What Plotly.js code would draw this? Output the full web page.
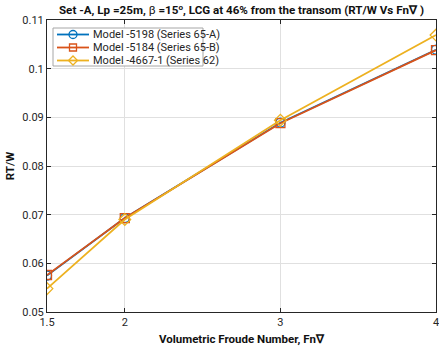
<!DOCTYPE html>
<html>
<head>
<meta charset="utf-8">
<script src="https://cdn.plot.ly/plotly-3.0.1.min.js"></script>
<style>
  html, body { margin: 0; padding: 0; background: #fff; }
  #chart { width: 439px; height: 350px; }
</style>
</head>
<body>
<div id="chart"></div>
<script>
// Volumetric Froude numbers tested
const froude = [1.5, 2, 3, 4];

// Resistance-to-weight ratio for each model
const rtwModel5198 = [0.0575, 0.0693, 0.0889, 0.1039];
const rtwModel5184 = [0.0576, 0.0693, 0.0888, 0.1038];
const rtwModel4667 = [0.0548, 0.0690, 0.0894, 0.1069];

const seriesNames = [
  'Model -5198 (Series 65-A)',
  'Model -5184 (Series 65-B)',
  'Model -4667-1 (Series 62)'
];

const xTicks = [1.5, 2, 3, 4];
const yTicks = [0.05, 0.06, 0.07, 0.08, 0.09, 0.1, 0.11];

const colors = ['#0072BD', '#D95319', '#EDB120'];
const symbols = ['circle-open', 'square-open', 'diamond-open'];
const values = [rtwModel5198, rtwModel5184, rtwModel4667];
const markerSize = 9;

const traces = values.map((v, i) => ({
  x: froude,
  y: v,
  name: seriesNames[i],
  type: 'scatter',
  mode: 'lines+markers',
  showlegend: false,
  line: { color: colors[i], width: 1.8 },
  marker: { symbol: symbols[i], size: markerSize, color: colors[i], line: { width: 1.3, color: colors[i] } }
}));

// Plot area in pixels (used to place the compact legend box)
const W = 439, H = 350;
const M = { l: 47, r: 3, t: 20, b: 38 };
const pw = W - M.l - M.r, ph = H - M.t - M.b;
const px = x => (x - M.l) / pw;
const py = y => (H - M.b - y) / ph;

// Compact boxed legend drawn in the upper-left corner of the axes
const legBox = { x0: 53, x1: 203, y0: 28, y1: 66 };
const rowY = [34.5, 47.5, 60.5];
const lineX0 = 57, lineX1 = 89, glyphX = 73, textX = 91;

const shapes = [{
  type: 'rect', xref: 'paper', yref: 'paper',
  x0: px(legBox.x0), x1: px(legBox.x1), y0: py(legBox.y1), y1: py(legBox.y0),
  fillcolor: '#ffffff', line: { color: '#a6a6a6', width: 1 }, layer: 'above'
}];
const annotations = [];
const half = 4;
seriesNames.forEach((name, i) => {
  const yc = py(rowY[i]);
  shapes.push({
    type: 'line', xref: 'paper', yref: 'paper',
    x0: px(lineX0), x1: px(lineX1), y0: yc, y1: yc,
    line: { color: colors[i], width: 1.8 }, layer: 'above'
  });
  const glyph = {
    xref: 'paper', yref: 'paper', xsizemode: 'pixel', ysizemode: 'pixel',
    xanchor: px(glyphX), yanchor: yc,
    fillcolor: 'rgba(0,0,0,0)', line: { color: colors[i], width: 1.3 }, layer: 'above'
  };
  if (i === 0) {
    Object.assign(glyph, { type: 'circle', x0: -half, x1: half, y0: -half, y1: half });
  } else if (i === 1) {
    Object.assign(glyph, { type: 'rect', x0: -half + 0.5, x1: half - 0.5, y0: -half + 0.5, y1: half - 0.5 });
  } else {
    Object.assign(glyph, { type: 'path', path: `M${-half - 0.5},0 L0,${half + 0.5} L${half + 0.5},0 L0,${-half - 0.5} Z` });
  }
  shapes.push(glyph);
  annotations.push({
    xref: 'paper', yref: 'paper', x: px(textX), y: yc,
    xanchor: 'left', yanchor: 'middle', showarrow: false,
    text: name, font: { family: 'Roboto, Arial, sans-serif', size: 11, color: '#262626' }
  });
});

const axisCommon = {
  showline: true,
  linecolor: '#262626',
  linewidth: 1,
  mirror: 'ticks',
  ticks: 'inside',
  ticklen: 4,
  tickcolor: '#262626',
  showgrid: true,
  gridcolor: '#e0e0e0',
  gridwidth: 1,
  zeroline: false,
  ticklabeloverflow: 'allow',
  tickfont: { family: 'Roboto, Arial, sans-serif', size: 11, color: '#262626' }
};

const layout = {
  width: W,
  height: H,
  margin: M,
  paper_bgcolor: '#ffffff',
  plot_bgcolor: '#ffffff',
  font: { family: 'Roboto, Arial, sans-serif', color: '#262626' },
  title: {
    text: '<b>Set -A, Lp =25m, </b>β<b> =15<sup>o</sup>, LCG at 46% from the transom (RT/W Vs Fn∇ )</b>',
    font: { family: 'Roboto, Arial, sans-serif', size: 11.6, color: '#111' },
    xref: 'paper',
    x: 0.5,
    xanchor: 'center',
    y: 0.982,
    yanchor: 'top'
  },
  xaxis: Object.assign({}, axisCommon, {
    range: [1.5, 4],
    tickmode: 'array',
    tickvals: xTicks,
    ticktext: xTicks.map(String),
    title: { text: '<b>Volumetric Froude Number, Fn∇</b>', font: { size: 11.5, color: '#111' }, standoff: 6 }
  }),
  yaxis: Object.assign({}, axisCommon, {
    range: [0.05, 0.11],
    tickmode: 'array',
    tickvals: yTicks,
    ticktext: yTicks.map(String),
    title: { text: '<b>RT/W</b>', font: { size: 11.5, color: '#111' }, standoff: 5 }
  }),
  showlegend: false,
  shapes: shapes,
  annotations: annotations
};

Plotly.newPlot('chart', traces, layout, { displayModeBar: false, staticPlot: true });
</script>
</body>
</html>
